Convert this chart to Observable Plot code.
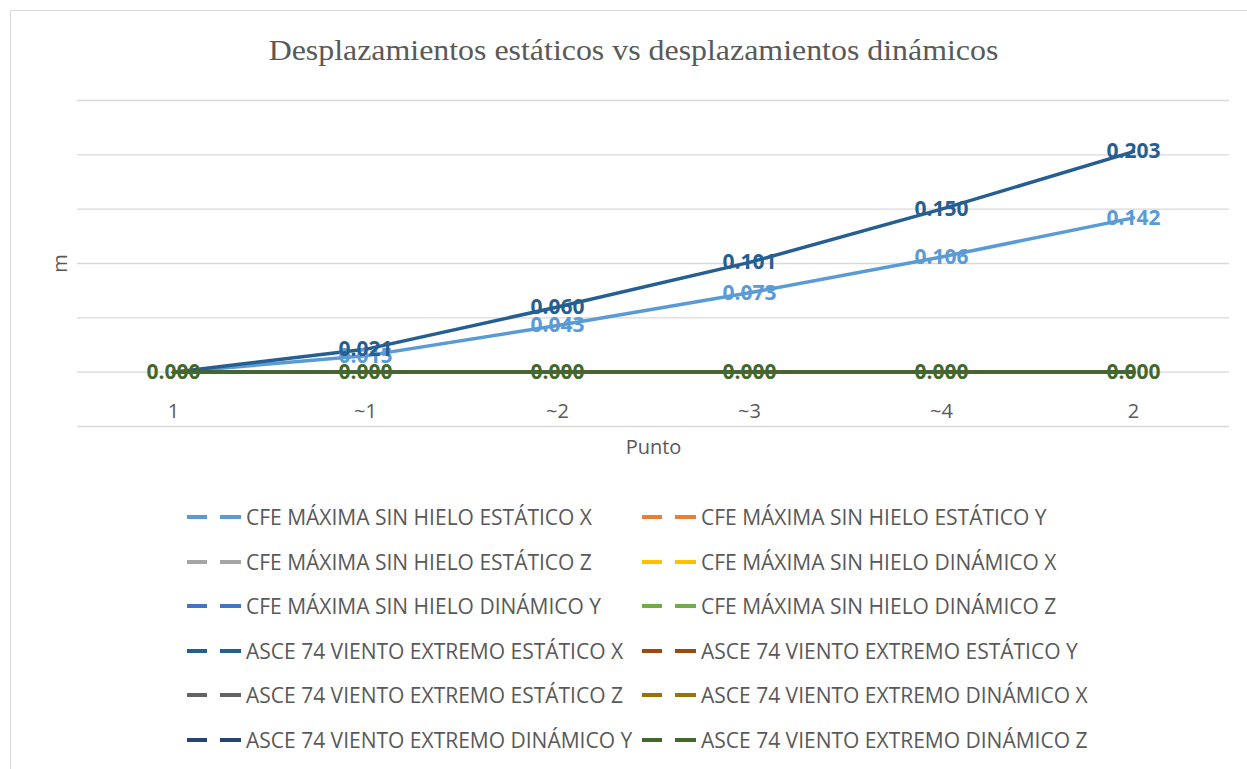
<!DOCTYPE html>
<html><head><meta charset="utf-8">
<script src="https://cdn.jsdelivr.net/npm/d3@7"></script>
<script src="https://cdn.jsdelivr.net/npm/@observablehq/plot@0.6"></script>
<style>
body{margin:0;background:#fff;}
#wrap{position:relative;width:1247px;height:769px;overflow:hidden;background:#fff;}
#border{position:absolute;left:10px;top:10px;width:1260px;height:800px;border:1px solid #d9d9d9;box-sizing:border-box;}
#title{position:absolute;left:10px;top:0;width:1247px;height:90px;text-align:center;font-family:"Liberation Serif",serif;font-size:30px;color:#595959;line-height:100px;transform:scaleX(1.063);transform-origin:623.5px 50%;}
#chart{position:absolute;left:0;top:90px;}
#legend{position:absolute;left:0;top:0;width:1247px;height:769px;pointer-events:none;}
.li{position:absolute;height:30px;display:flex;align-items:center;font-family:"Open Sans",sans-serif;font-size:21px;color:#595959;white-space:nowrap;}
.li svg{margin-right:4px;}
</style></head>
<body><div id="wrap"><div id="border"></div><div id="title">Desplazamientos estáticos vs desplazamientos dinámicos</div><div id="chart"></div><div id="legend"></div></div>
<script>
const categories = ["1","~1","~2","~3","~4","2"];
const seriesNames = [
  "CFE MÁXIMA SIN HIELO ESTÁTICO X","CFE MÁXIMA SIN HIELO ESTÁTICO Y",
  "CFE MÁXIMA SIN HIELO ESTÁTICO Z","CFE MÁXIMA SIN HIELO DINÁMICO X",
  "CFE MÁXIMA SIN HIELO DINÁMICO Y","CFE MÁXIMA SIN HIELO DINÁMICO Z",
  "ASCE 74 VIENTO EXTREMO ESTÁTICO X","ASCE 74 VIENTO EXTREMO ESTÁTICO Y",
  "ASCE 74 VIENTO EXTREMO ESTÁTICO Z","ASCE 74 VIENTO EXTREMO DINÁMICO X",
  "ASCE 74 VIENTO EXTREMO DINÁMICO Y","ASCE 74 VIENTO EXTREMO DINÁMICO Z"];
const seriesColors = ["#5B9BD5","#ED7D31","#A5A5A5","#FFC000","#4472C4","#70AD47",
  "#255E91","#9E480E","#636363","#997300","#264478","#43682B"];
const cfeEstX = [0.000,0.015,0.043,0.073,0.106,0.142];
const cfeEstY = [0,0,0,0,0,0];
const cfeEstZ = [0,0,0,0,0,0];
const cfeDinX = [0,0,0,0,0,0];
const cfeDinY = [0,0,0,0,0,0];
const cfeDinZ = [0,0,0,0,0,0];
const asceEstX = [0.000,0.021,0.060,0.101,0.150,0.203];
const asceEstY = [0,0,0,0,0,0];
const asceEstZ = [0,0,0,0,0,0];
const asceDinX = [0,0,0,0,0,0];
const asceDinY = [0,0,0,0,0,0];
const asceDinZ = [0,0,0,0,0,0];
const yTicks = [-0.05,0,0.05,0.10,0.15,0.20,0.25];

const seriesValues = [cfeEstX,cfeEstY,cfeEstZ,cfeDinX,cfeDinY,cfeDinZ,asceEstX,asceEstY,asceEstZ,asceDinX,asceDinY,asceDinZ];
const rows = [];
seriesValues.forEach((vals,si)=>vals.forEach((v,ci)=>rows.push({series:seriesNames[si],cat:categories[ci],value:v})));

// data labels: identical labels stacked at the same spot show only the topmost (last drawn) one
const fmt = d3.format(".3f");
const seen = new Set();
const labelRows = [];
for (let i = rows.length-1; i >= 0; i--) {
  const key = rows[i].cat + "|" + fmt(rows[i].value);
  if (!seen.has(key)) { seen.add(key); labelRows.unshift(rows[i]); }
}

const plot = Plot.plot({
  width:1247, height:370,
  marginLeft:77, marginRight:18, marginTop:10, marginBottom:34,
  x:{type:"point", domain:categories, padding:0.5, label:null},
  y:{domain:[-0.05,0.25], label:null},
  color:{domain:seriesNames, range:seriesColors},
  style:{fontFamily:"Open Sans, sans-serif"},
  marks:[
    Plot.ruleY(yTicks,{stroke:"#d9d9d9",strokeWidth:1.3}),
    Plot.axisX({tickSize:0, dy:-32, fontSize:20, color:"#595959", label:null}),
    Plot.axisY({ticks:[], label:null}),
    Plot.text(["Punto"],{frameAnchor:"bottom", dy:27, fontSize:20, fill:"#595959"}),
    Plot.text(["m"],{frameAnchor:"left", dx:-17, textAnchor:"middle", rotate:-90, fontSize:20, fill:"#595959"}),
    Plot.line(rows,{x:"cat", y:"value", z:"series", stroke:"series", strokeWidth:3.5, strokeLinejoin:"round", strokeLinecap:"round"}),
    Plot.text(labelRows,{x:"cat", y:"value", text:d=>fmt(d.value), fill:"series", fontWeight:"bold", fontSize:21})
  ]
});
document.getElementById("chart").appendChild(plot);

const legend = document.getElementById("legend");
seriesNames.forEach((name,i)=>{
  const row = Math.floor(i/2), col = i%2;
  const cy = 517 + row*44.6;
  const x = col===0 ? 187 : 642;
  const div = document.createElement("div");
  div.className = "li";
  div.style.left = x+"px";
  div.style.top = (cy-15)+"px";
  div.innerHTML = `<svg width="55" height="8"><line x1="0" x2="20" y1="4" y2="4" stroke="${seriesColors[i]}" stroke-width="4"/><line x1="33" x2="54" y1="4" y2="4" stroke="${seriesColors[i]}" stroke-width="4"/></svg><span>${name}</span>`;
  legend.appendChild(div);
});
</script></body></html>
